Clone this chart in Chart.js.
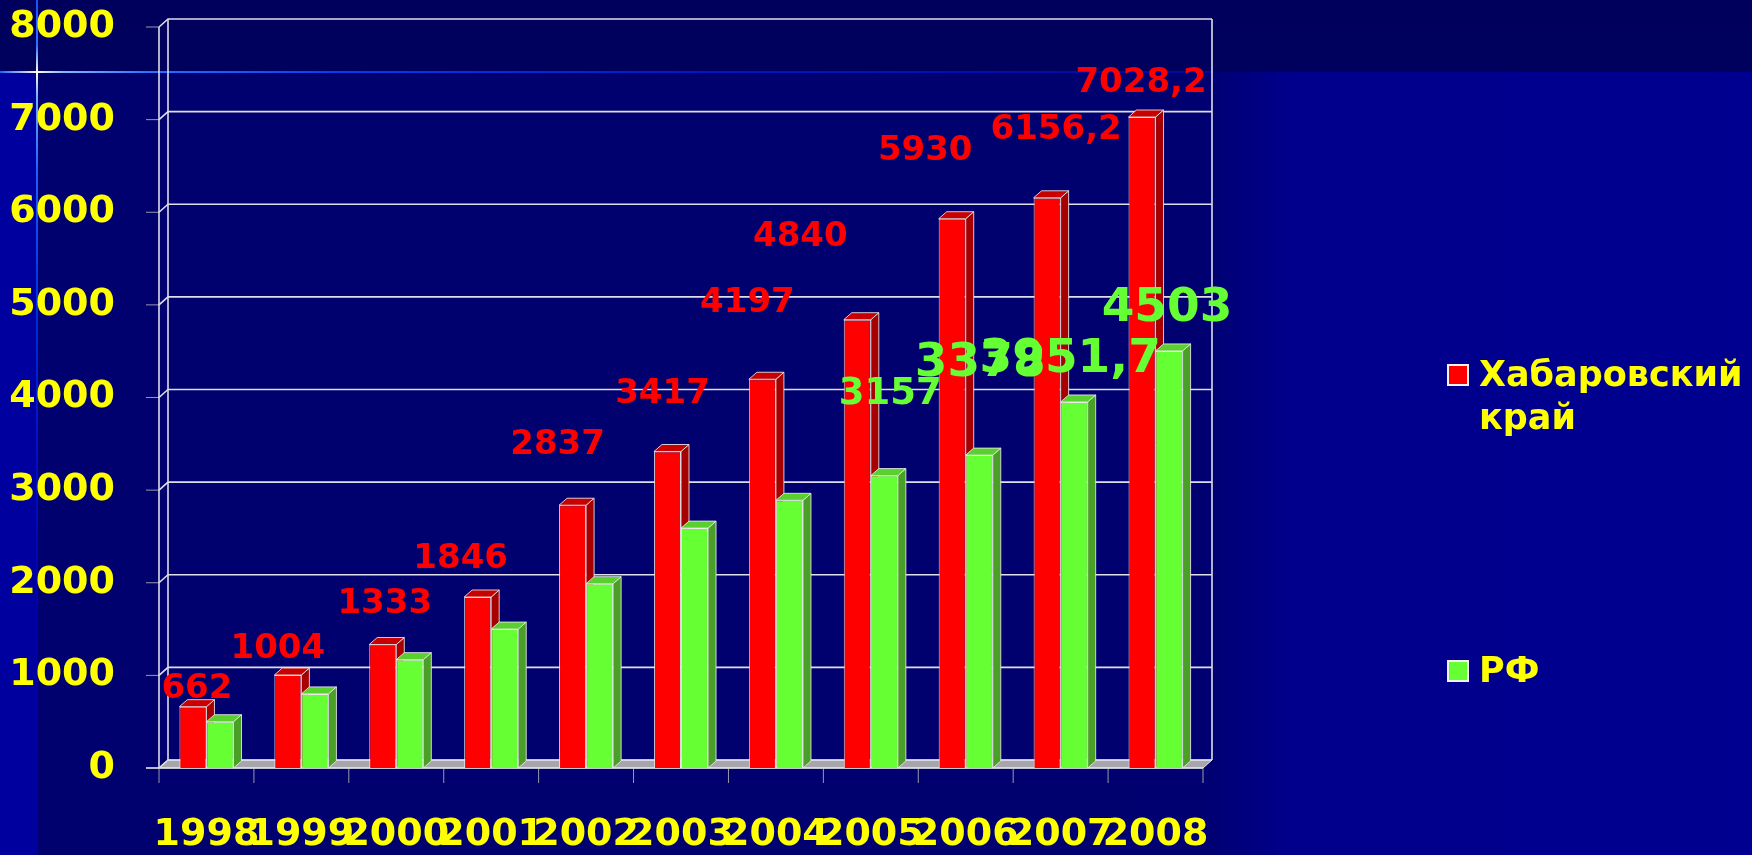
<!DOCTYPE html>
<html lang="ru">
<head>
<meta charset="utf-8">
<title>Хабаровский край и РФ, 1998–2008</title>
<script src="https://cdn.jsdelivr.net/npm/chart.js@4.4.1/dist/chart.umd.min.js"></script>
<style>
  html, body { margin: 0; padding: 0; }
  body {
    position: relative;
    width: 1752px;
    height: 855px;
    overflow: hidden;
    font-family: "DejaVu Sans", Verdana, sans-serif;
    background:
      linear-gradient(to bottom, #00005c 0, #00005e 72px, transparent 72px),
      linear-gradient(to right, #00009e 0, #00009e 36px, #00006e 36px, #000070 1200px, #00008c 1290px, #000090 100%);
  }
  .hline {
    position: absolute; left: 0; top: 71px; width: 1213px; height: 2px;
    background: linear-gradient(to right, #2060ff 0, #fffff0 37px, #88b8ff 62px, #2a70ff 150px,
                #0a3cf0 330px, #0018c4 700px, #000a9a 1213px);
  }
  .vline {
    position: absolute; left: 36px; top: 0; width: 2px; height: 855px;
    background: linear-gradient(to bottom, #1850ff 0, #3070ff 45px, #fffff0 72px, #78b0ff 96px,
                #2060ff 170px, #0030e0 300px, #0012c4 440px, #0000a8 620px, #00009e 855px);
  }
  #chart { position: absolute; left: 0; top: 0; }
  .legend-box {
    position: absolute; left: 1447px; width: 22px; height: 22px;
    box-sizing: border-box; border: 2px solid #f2f2f2;
  }
  .legend-text {
    position: absolute; left: 1479px; width: 262px;
    font: bold 35px/43px "DejaVu Sans", Verdana, sans-serif;
    color: #ffff00;
  }
</style>
</head>
<body>
<div class="hline"></div>
<div class="vline"></div>
<canvas id="chart" width="1752" height="855"></canvas>
<div id="legend"></div>

<script>
// Data
var years = ['1998', '1999', '2000', '2001', '2002', '2003', '2004', '2005', '2006', '2007', '2008'];
var khabarovsk = [662, 1004, 1333, 1846, 2837, 3417, 4197, 4840, 5930, 6156.2, 7028.2];
var russia = [500, 800, 1170, 1500, 1990, 2590, 2890, 3157, 3378, 3951.7, 4503];
var yTickValues = [0, 1000, 2000, 3000, 4000, 5000, 6000, 7000, 8000];

// Styles
var YELLOW = '#ffff00';
var FONT = '"DejaVu Sans", Verdana, sans-serif';
var WALL = { dx: 9, dy: 8 };
var BAR = { dx: 8, dy: 7 };
var faces = [
    { front: '#ff0000', side: '#a60000', top: '#c80000', label: '#ff0000' },
    { front: '#66ff33', side: '#4a9f27', top: '#5ad02f', label: '#66ff33' }
];
// label offsets from the top centre of each bar, and font sizes (0 = no label)
var redLabelOffsets = [[4, -18], [-10, -26], [2, -40], [-17, -38], [-15, -60], [-5, -57],
                       [-15, -76], [-57, -83], [-27, -68], [9, -68], [-1, -34]];
var redLabelSizes = [34, 34, 34, 34, 34, 34, 34, 34, 34, 34, 34];
var greenLabelOffsets = [null, null, null, null, null, null, null, [6, -81], [1, -91], [-4, -42], [-2, -42]];
var greenLabelSizes = [0, 0, 0, 0, 0, 0, 0, 37, 47, 47, 47];

function formatValue(v) {
    return String(v).replace('.', ',');
}

function poly(ctx, pts, fill, stroke) {
    ctx.beginPath();
    ctx.moveTo(pts[0][0], pts[0][1]);
    for (var i = 1; i < pts.length; i++) ctx.lineTo(pts[i][0], pts[i][1]);
    ctx.closePath();
    ctx.fillStyle = fill;
    ctx.fill();
    ctx.strokeStyle = stroke;
    ctx.lineWidth = 1;
    ctx.stroke();
}

function line(ctx, x1, y1, x2, y2) {
    ctx.beginPath();
    ctx.moveTo(x1, y1);
    ctx.lineTo(x2, y2);
    ctx.stroke();
}

// side and top faces of one bar element
function barFaces(ctx, bar, f) {
    var p = bar.getProps(['x', 'y', 'base', 'width'], true);
    var l = p.x - p.width / 2, r = p.x + p.width / 2;
    poly(ctx, [[r, p.y], [r + BAR.dx, p.y - BAR.dy], [r + BAR.dx, p.base - BAR.dy], [r, p.base]],
         f.side, 'rgba(235,235,235,0.85)');
    poly(ctx, [[l, p.y], [l + BAR.dx, p.y - BAR.dy], [r + BAR.dx, p.y - BAR.dy], [r, p.y]],
         f.top, 'rgba(235,235,235,0.85)');
}

// Back wall, floor, gridlines and axis ticks of the pseudo-3D box
var wallPlugin = {
    id: 'wall3d',
    beforeDatasetsDraw: function(chart) {
        var ctx = chart.ctx, a = chart.chartArea;
        var xs = chart.scales.x, ys = chart.scales.y;
        var dx = WALL.dx, dy = WALL.dy;
        ctx.save();

        // floor
        poly(ctx, [[a.left, a.bottom], [a.right, a.bottom], [a.right + dx, a.bottom - dy], [a.left + dx, a.bottom - dy]],
             '#a6a6ac', '#e6e6ee');

        // outer tick marks
        ctx.strokeStyle = '#9a9aae';
        ctx.lineWidth = 1;
        ys.ticks.forEach(function(t) {
            var py = ys.getPixelForValue(t.value);
            line(ctx, a.left - 13, py, a.left, py);
        });
        var step = xs.getPixelForValue(1) - xs.getPixelForValue(0);
        for (var i = 0; i <= years.length; i++) {
            var bx = xs.getPixelForValue(0) - step / 2 + i * step;
            line(ctx, bx, a.bottom, bx, a.bottom + 15);
        }

        // gridlines on the back wall with their side-wall connectors
        ctx.strokeStyle = '#dedee8';
        ctx.lineWidth = 1.6;
        ys.ticks.forEach(function(t) {
            var py = ys.getPixelForValue(t.value);
            ctx.beginPath();
            ctx.moveTo(a.left, py);
            ctx.lineTo(a.left + dx, py - dy);
            ctx.lineTo(a.right + dx, py - dy);
            ctx.stroke();
        });
        line(ctx, a.left, a.top, a.left, a.bottom);
        line(ctx, a.left + dx, a.top - dy, a.left + dx, a.bottom - dy);
        line(ctx, a.right + dx, a.top - dy, a.right + dx, a.bottom - dy);
        line(ctx, a.left - 13, a.bottom, a.right, a.bottom);
        ctx.restore();
    },
    afterDatasetsDraw: function(chart) {
        var ctx = chart.ctx;
        var red = chart.getDatasetMeta(0).data;
        var green = chart.getDatasetMeta(1).data;

        // 3D faces: red side/top, then the green front again on top of it, then green side/top
        ctx.save();
        red.forEach(function(bar, i) {
            barFaces(ctx, bar, faces[0]);
            green[i].draw(ctx);
            barFaces(ctx, green[i], faces[1]);
        });
        ctx.restore();

        // value labels
        var sets = [
            { offsets: redLabelOffsets, sizes: redLabelSizes },
            { offsets: greenLabelOffsets, sizes: greenLabelSizes }
        ];
        ctx.save();
        ctx.textAlign = 'center';
        ctx.textBaseline = 'middle';
        sets.forEach(function(s, di) {
            var meta = chart.getDatasetMeta(di);
            var values = chart.data.datasets[di].data;
            meta.data.forEach(function(bar, i) {
                if (!s.sizes[i] || !s.offsets[i]) return;
                var p = bar.getProps(['x', 'y'], true);
                ctx.font = 'bold ' + s.sizes[i] + 'px ' + FONT;
                ctx.fillStyle = faces[di].label;
                ctx.fillText(formatValue(values[i]), p.x + s.offsets[i][0], p.y + s.offsets[i][1]);
            });
        });
        ctx.restore();
    }
};

var chart = new Chart(document.getElementById('chart'), {
    type: 'bar',
    data: {
        labels: years,
        datasets: [{
            label: 'Хабаровский край',
            data: khabarovsk,
            backgroundColor: faces[0].front,
            borderColor: 'rgba(240,240,240,0.85)',
            borderWidth: 1
        }, {
            label: 'РФ',
            data: russia,
            backgroundColor: faces[1].front,
            borderColor: 'rgba(240,240,240,0.85)',
            borderWidth: 1
        }]
    },
    options: {
        responsive: false,
        devicePixelRatio: 1,
        animation: false,
        categoryPercentage: 0.57,
        barPercentage: 1.0,
        layout: { padding: { left: 0, top: 27, right: 549, bottom: 0 } },
        plugins: {
            legend: { display: false },
            tooltip: { enabled: false }
        },
        scales: {
            x: {
                grid: { display: false, drawTicks: false },
                border: { display: false },
                ticks: {
                    autoSkip: false,
                    maxRotation: 0,
                    minRotation: 0,
                    padding: 44,
                    color: YELLOW,
                    font: { family: FONT, size: 38, weight: 'bold' }
                },
                afterFit: function(scale) {
                    scale.height = 87;
                    scale.paddingLeft = 0;
                    scale.paddingRight = 0;
                }
            },
            y: {
                min: 0,
                max: 8000,
                afterBuildTicks: function(scale) {
                    scale.ticks = yTickValues.map(function(v) { return { value: v }; });
                },
                grid: { display: false, drawTicks: false },
                border: { display: false },
                ticks: {
                    padding: 44,
                    color: YELLOW,
                    font: { family: FONT, size: 38, weight: 'bold' },
                    callback: function(value) { return String(value); }
                },
                afterFit: function(scale) {
                    scale.width = 159;
                    scale.paddingTop = 0;
                    scale.paddingBottom = 0;
                }
            }
        }
    },
    plugins: [wallPlugin]
});

// Legend on the right, built from the datasets
var legendTops = [364, 660];
var legend = document.getElementById('legend');
chart.data.datasets.forEach(function(ds, i) {
    var box = document.createElement('div');
    box.className = 'legend-box';
    box.style.top = legendTops[i] + 'px';
    box.style.background = ds.backgroundColor;
    legend.appendChild(box);
    var txt = document.createElement('div');
    txt.className = 'legend-text';
    txt.style.top = (legendTops[i] - 11) + 'px';
    txt.textContent = ds.label;
    legend.appendChild(txt);
});
</script>
</body>
</html>
